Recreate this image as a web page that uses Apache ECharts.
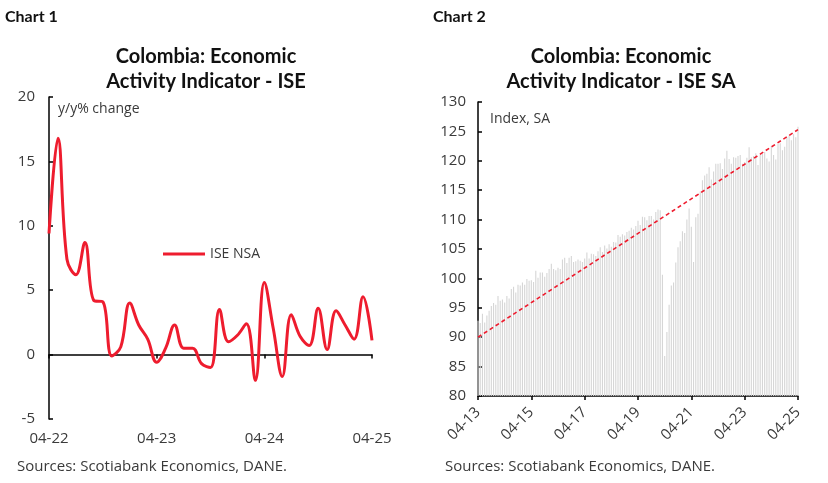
<!DOCTYPE html>
<html>
<head>
    <meta charset="utf-8">
    <title>Colombia ISE</title>
    <script src="https://cdn.jsdelivr.net/npm/echarts@6/dist/echarts.min.js"></script>
    <style>
        * { margin: 0; padding: 0 }
        html, body { width: 100%; height: 100%; background: #fff; }
        #main { width: 828px; height: 483px; }
    </style>
</head>
<body>
<div id="main"></div>
<script type="text/javascript">
    // Chart 1: ISE NSA, y/y % change, 04-22 .. 04-25
    var nsaValues = [9.4, 16.8, 7.4, 6.2, 8.7, 4.2, 4.1, -0.1, 0.6, 4.0, 2.3, 1.2,
        -0.6, 0.5, 2.3, 0.5, 0.5, -0.7, -1.0, 3.5, 1.0, 1.5, 2.4, -2.0,
        5.6, 2.0, -1.7, 3.1, 1.4, 0.7, 3.6, 0.4, 3.4, 2.3, 1.2, 4.5, 1.1];

    // Chart 2: ISE SA index, 04-13 .. 04-25
    var saValues = [
        92.8, 92.4, 94.0, 92.5, 93.7, 94.5, 95.3, 95.8, 95.5, 97.0, 96.2, 96.4,
        95.9, 97.0, 96.6, 98.2, 98.6, 97.6, 98.9, 98.8, 99.3, 98.9, 99.9, 99.6,
        99.7, 99.4, 101.3, 100.1, 101.0, 101.0, 100.3, 100.9, 101.6, 102.5, 101.6, 101.4,
        101.8, 101.6, 103.2, 103.5, 102.6, 103.5, 103.8, 102.8, 102.9, 103.2, 103.0, 102.8,
        103.4, 104.4, 103.4, 104.2, 104.1, 103.8, 104.6, 105.3, 104.5, 105.6, 105.1, 105.8,
        105.4, 106.2, 106.1, 107.4, 107.1, 107.5, 107.3, 107.9, 108.1, 108.6, 108.3, 108.9,
        109.8, 109.1, 110.5, 110.4, 109.9, 110.6, 110.6, 110.0, 111.3, 111.7, 111.6, 100.6,
        86.8, 90.9, 95.5, 98.8, 99.3, 102.7, 105.3, 106.3, 108.0, 107.7, 110.0, 111.9,
        108.8, 102.8, 110.4, 111.0, 114.8, 116.7, 117.5, 117.8, 118.9, 116.8, 118.2, 119.5,
        119.5, 119.6, 118.6, 120.4, 121.7, 120.3, 119.5, 120.6, 120.5, 120.8, 121.0, 119.5,
        119.8, 120.5, 122.3, 120.6, 120.8, 121.3, 119.3, 121.0, 121.2, 121.5, 120.4, 119.9,
        122.5, 121.0, 120.2, 122.9, 123.0, 121.8, 122.4, 124.0, 124.3, 123.5, 124.5, 124.0, 125.8
    ];
    // dashed trend: start and end values only
    var trendStart = 90.0;
    var trendEnd = 125.3;

    var yTicks1 = [-5, 20, 5];   // min, max, step
    var yTicks2 = [80, 130, 5];

    function monthLabels(startYear, count) {
        var out = [];
        for (var i = 0; i < count; i++) {
            var m = (3 + i) % 12 + 1;
            var y = startYear + Math.floor((3 + i) / 12);
            out.push((m < 10 ? '0' : '') + m + '-' + String(y).slice(2));
        }
        return out;
    }
    var months1 = monthLabels(2022, nsaValues.length);
    var months2 = monthLabels(2013, saValues.length);

    var trendData = saValues.map(function () { return null; });
    trendData[0] = trendStart;
    trendData[trendData.length - 1] = trendEnd;

    var txt = '#3a3a3a';
    var font = 'Open Sans';
    var red = '#ee1c2e';
    var fs = 15;

    var myChart = echarts.init(document.getElementById('main'));
    myChart.setOption({
        animation: false,
        textStyle: {fontFamily: font},
        title: [
            {text: 'Chart 1', left: 0, top: 4, textStyle: {fontFamily: 'Lato', fontWeight: 'bold', fontSize: 16, color: '#111'}},
            {text: 'Chart 2', left: 428, top: 4, textStyle: {fontFamily: 'Lato', fontWeight: 'bold', fontSize: 16, color: '#111'}},
            {text: 'Colombia: Economic\nActivity Indicator - ISE', left: 201, top: 39, textAlign: 'center',
                textStyle: {fontFamily: 'Lato', fontWeight: 'bold', fontSize: 20, lineHeight: 25, color: '#111'}},
            {text: 'Colombia: Economic\nActivity Indicator - ISE SA', left: 616, top: 39, textAlign: 'center',
                textStyle: {fontFamily: 'Lato', fontWeight: 'bold', fontSize: 20, lineHeight: 25, color: '#111'}},
            {text: 'y/y% change', left: 53, top: 97, textStyle: {fontFamily: font, fontWeight: 'normal', fontSize: 14, color: txt}},
            {text: 'Index, SA', left: 485, top: 107, textStyle: {fontFamily: font, fontWeight: 'normal', fontSize: 14, color: txt}},
            {text: 'Sources: Scotiabank Economics, DANE.', left: 12, top: 454, textStyle: {fontFamily: font, fontWeight: 'normal', fontSize: fs, color: txt}},
            {text: 'Sources: Scotiabank Economics, DANE.', left: 440, top: 454, textStyle: {fontFamily: font, fontWeight: 'normal', fontSize: fs, color: txt}}
        ],
        legend: {
            data: ['ISE NSA'],
            left: 158, top: 242,
            icon: 'rect', itemWidth: 42, itemHeight: 3, itemGap: 6,
            textStyle: {fontFamily: font, fontSize: 14, color: txt}
        },
        grid: [
            {left: 49, right: 456, top: 97, bottom: 64},
            {left: 478, right: 30, top: 102, bottom: 87}
        ],
        xAxis: [
            {   // labels along the bottom
                gridIndex: 0, type: 'category', data: months1, boundaryGap: false,
                position: 'bottom',
                axisLine: {show: false, onZero: false}, axisTick: {show: false},
                axisLabel: {interval: 11, color: txt, fontSize: fs, margin: 12}
            },
            {   // line and ticks on zero
                gridIndex: 0, type: 'category', data: months1, boundaryGap: false,
                position: 'bottom',
                axisLine: {onZero: true, lineStyle: {color: '#000', width: 1.5}},
                axisTick: {interval: 11, length: 4, lineStyle: {color: '#000', width: 1.5}},
                axisLabel: {show: false}
            },
            {
                gridIndex: 1, type: 'category', data: months2, boundaryGap: false,
                axisLine: {lineStyle: {color: '#000', width: 1.5}},
                axisTick: {interval: 23, length: 4, lineStyle: {color: '#000', width: 1.5}},
                axisLabel: {interval: 23, rotate: 45, color: txt, fontSize: fs, margin: 14}
            }
        ],
        yAxis: [
            {
                gridIndex: 0, type: 'value', min: yTicks1[0], max: yTicks1[1], interval: yTicks1[2],
                splitLine: {show: false},
                axisLine: {show: true, lineStyle: {color: '#000', width: 1.5}},
                axisTick: {show: true, inside: true, length: 4, lineStyle: {color: '#000', width: 1.5}},
                axisLabel: {color: txt, fontSize: fs, margin: 14}
            },
            {
                gridIndex: 1, type: 'value', min: yTicks2[0], max: yTicks2[1], interval: yTicks2[2],
                splitLine: {show: false},
                axisLine: {show: true, lineStyle: {color: '#000', width: 1.5}},
                axisTick: {show: true, inside: true, length: 4, lineStyle: {color: '#000', width: 1.5}},
                axisLabel: {color: txt, fontSize: fs, margin: 12}
            }
        ],
        series: [
            {
                name: 'ISE NSA', type: 'line', xAxisIndex: 0, yAxisIndex: 0,
                data: nsaValues, smooth: 0.4, symbol: 'none',
                lineStyle: {color: red, width: 3}, itemStyle: {color: red}
            },
            {
                name: 'ISE SA', type: 'bar', xAxisIndex: 2, yAxisIndex: 1,
                data: saValues, barWidth: '50%',
                itemStyle: {color: '#d6d6d6'}
            },
            {
                name: 'Trend', type: 'line', xAxisIndex: 2, yAxisIndex: 1,
                data: trendData, connectNulls: true, symbol: 'none',
                lineStyle: {color: red, width: 1.6, type: [4, 3]}
            }
        ]
    });
</script>
</body>
</html>
